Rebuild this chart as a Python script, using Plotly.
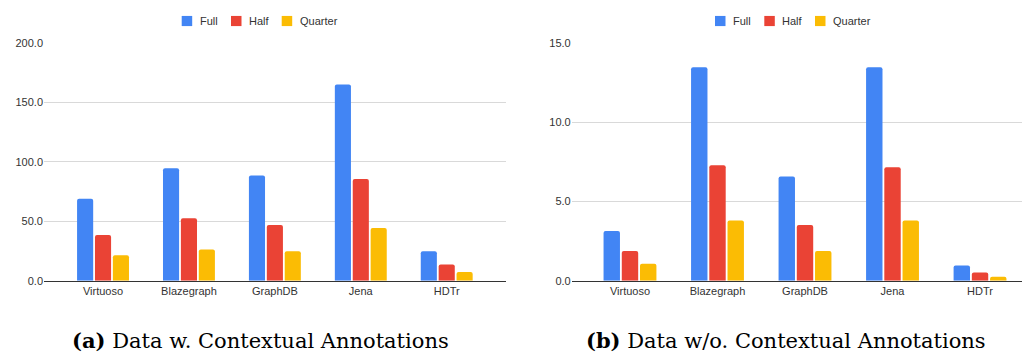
import plotly.graph_objects as go

categories = ["Virtuoso", "Blazegraph", "GraphDB", "Jena", "HDTr"]
series_names = ["Full", "Half", "Quarter"]
colors = ["#4285F4", "#EA4335", "#FBBC04"]

# (a) Data w. Contextual Annotations
a_full = [69.0, 94.6, 88.4, 164.8, 24.9]
a_half = [38.5, 52.6, 46.9, 85.6, 13.6]
a_quarter = [21.4, 26.3, 24.9, 44.4, 7.3]

# (b) Data w/o. Contextual Annotations
b_full = [3.13, 13.46, 6.57, 13.46, 0.96]
b_half = [1.87, 7.28, 3.52, 7.15, 0.53]
b_quarter = [1.08, 3.80, 1.87, 3.80, 0.26]

a_ticks = [0, 50, 100, 150, 200]
b_ticks = [0, 5, 10, 15]
captions = ["<b>(a)</b> Data w. Contextual Annotations",
            "<b>(b)</b> Data w/o. Contextual Annotations"]

W, H = 1030, 360
OFF = 8  # page body margin compensation


def px(x):
    return (x - OFF) / W


def py(y):
    return 1 - (y - OFF) / H


fig = go.Figure()
for name, col, vals in zip(series_names, colors, [a_full, a_half, a_quarter]):
    fig.add_trace(go.Bar(x=categories, y=vals, name=name, marker_color=col,
                         marker_line_width=0, showlegend=False,
                         xaxis="x", yaxis="y"))
for name, col, vals in zip(series_names, colors, [b_full, b_half, b_quarter]):
    fig.add_trace(go.Bar(x=categories, y=vals, name=name, marker_color=col,
                         marker_line_width=0, showlegend=False,
                         xaxis="x2", yaxis="y2"))

tickfont = dict(family="Liberation Sans, Arial, sans-serif", size=11, color="#333333")
ydom = [py(284), py(37.7)]

common_x = dict(type="category", showgrid=False, showline=True, linecolor="#333333",
                linewidth=1, ticks="", tickfont=tickfont, zeroline=False)
common_y = dict(showgrid=True, gridcolor="#d9d9d9", gridwidth=1, zeroline=False,
                ticks="", tickfont=tickfont, tickformat=".1f", showline=False)

fig.update_layout(
    width=W, height=H,
    margin=dict(l=0, r=0, t=0, b=0),
    paper_bgcolor="white", plot_bgcolor="white",
    barmode="group", bargap=0.375, bargroupgap=0.1,
    barcornerradius=2,
    xaxis=dict(domain=[px(44), px(506)], range=[-0.687, 4.69], anchor="y", **common_x),
    yaxis=dict(domain=ydom, range=[0, 200], tickvals=a_ticks, anchor="x", **common_y),
    xaxis2=dict(domain=[px(571.7), px(1030)], range=[-0.666, 4.571], anchor="y2", **common_x),
    yaxis2=dict(domain=ydom, range=[0, 15], tickvals=b_ticks, anchor="x2", **common_y),
)

# legends (one per panel), built from the series names/colors
legend_sq = [[181.7, 231.0, 281.7], [715.0, 764.3, 815.0]]
for panel in range(2):
    for i, (name, col) in enumerate(zip(series_names, colors)):
        x0 = legend_sq[panel][i]
        fig.add_shape(type="rect", xref="paper", yref="paper",
                      x0=px(x0), x1=px(x0 + 10.5), y0=py(20.5), y1=py(10),
                      fillcolor=col, line_width=0)
        fig.add_annotation(xref="paper", yref="paper", x=px(x0 + 16), y=py(15.5),
                           text=name, showarrow=False, xanchor="left", yanchor="middle",
                           font=dict(family="Liberation Sans, Arial, sans-serif", size=11,
                                     color="#333333"))

for cap, cx in zip(captions, [260, 786]):
    fig.add_annotation(xref="paper", yref="paper", x=px(cx), y=py(346),
                       text=cap, showarrow=False, xanchor="center", yanchor="middle",
                       font=dict(family="DejaVu Serif, serif", size=21, color="#000000"))

fig.write_html("out.html")
